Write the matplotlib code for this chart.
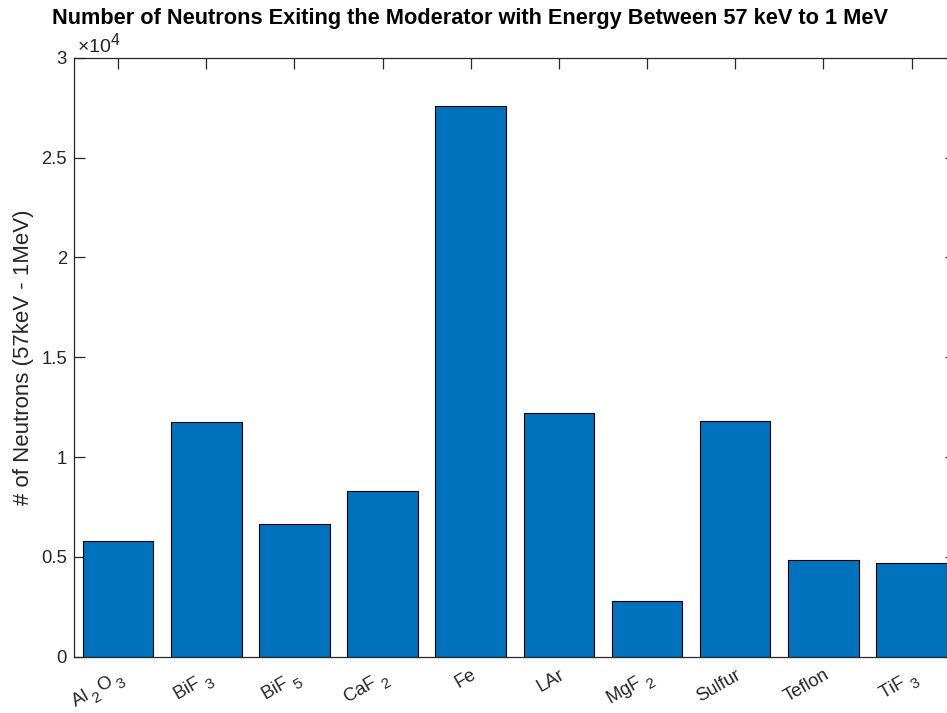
import matplotlib
matplotlib.use("Agg")
import matplotlib.pyplot as plt
from matplotlib.ticker import FuncFormatter
import matplotlib._mathtext as _mt

# MATLAB-like TeX subscripts: larger and lowered further
_mt.SHRINK_FACTOR = 0.82
_mt.FontConstantsBase.sub1 = 0.75

plt.rcParams['font.family'] = ['Liberation Sans', 'DejaVu Sans']
plt.rcParams['mathtext.fontset'] = 'custom'
plt.rcParams['mathtext.rm'] = 'Liberation Sans'
plt.rcParams['mathtext.it'] = 'Liberation Sans'
plt.rcParams['mathtext.default'] = 'regular'

# Data
categories = [r'Al$\,{}_2\,$O$\,{}_3$', r'BiF$\;{}_3$', r'BiF$\;{}_5$', r'CaF$\;{}_2$', 'Fe', 'LAr',
              r'MgF$\;{}_2$', 'Sulfur', 'Teflon', r'TiF$\;{}_3$']
neutrons = [5810, 11770, 6630, 8310, 27580, 12200, 2790, 11820, 4830, 4710]
yticks = [0, 5000, 10000, 15000, 20000, 25000, 30000]

W, H = 947, 713
fig = plt.figure(figsize=(W / 100, H / 100), dpi=100)
ax = fig.add_axes([74 / W, (H - 656.7) / H, 881.6 / W, 599 / H])

x = list(range(1, len(categories) + 1))
ax.bar(x, neutrons, width=0.8, color='#0072BD', edgecolor='black', linewidth=0.8, zorder=2)

ax.set_xlim(0.5, 10.5)
ax.set_ylim(0, 30000)
ax.set_yticks(yticks)
ax.yaxis.set_major_formatter(FuncFormatter(lambda v, p: '%g' % (v / 1e4)))
ax.set_xticks(x)
ax.set_xticklabels(categories, rotation=30, ha='right', va='top', rotation_mode='anchor')

axc = '#262626'
for s in ax.spines.values():
    s.set_color(axc)
    s.set_linewidth(0.9)
ax.tick_params(axis='both', which='both', direction='in', length=8, width=0.9,
               colors=axc, labelsize=13.3, top=True, right=True)
ax.tick_params(axis='x', pad=7)
ax.tick_params(axis='y', pad=5)

ax.text(0.003, 1.001, r'$\times10^{4}$', transform=ax.transAxes, fontsize=14,
        color=axc, ha='left', va='bottom')

ax.set_ylabel('# of Neutrons (57keV - 1MeV)', fontsize=16, color=axc, labelpad=5)
ax.set_title('Number of Neutrons Exiting the Moderator with Energy Between 57 keV to 1 MeV',
             fontsize=15.7, fontweight='bold', x=0.449, pad=24, color='black')

fig.savefig('out.png', dpi=100)
